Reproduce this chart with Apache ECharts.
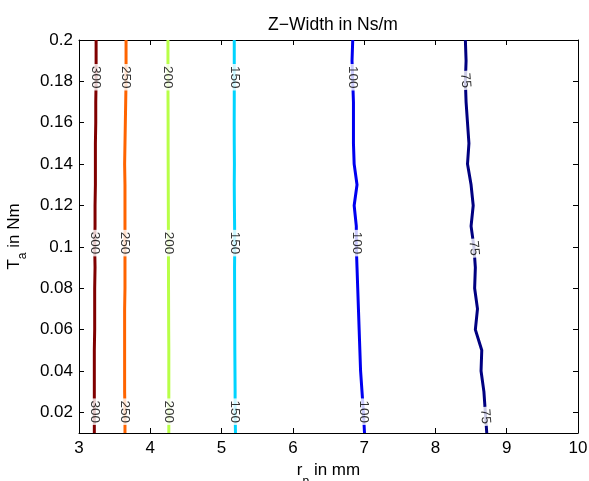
<!DOCTYPE html>
<html>
<head>
<meta charset="utf-8">
<script src="https://cdn.jsdelivr.net/npm/echarts@6/dist/echarts.min.js"></script>
<style>html,body{margin:0;padding:0;background:#fff}#c{width:589px;height:481px}</style>
</head>
<body>
<div id="c"></div>
<script>
// sampled torque values (y) for each contour line, bottom to top
const ySamples = [0.01,0.02,0.03,0.04,0.05,0.06,0.07,0.08,0.09,0.10,0.11,0.12,0.13,0.14,0.15,0.16,0.17,0.18,0.19,0.20];
const levels = [300, 250, 200, 150, 100, 75];
const x300 = [3.215,3.215,3.215,3.215,3.215,3.22,3.22,3.22,3.225,3.22,3.225,3.225,3.23,3.23,3.23,3.235,3.235,3.24,3.24,3.24];
const x250 = [3.645,3.645,3.64,3.64,3.64,3.64,3.64,3.645,3.645,3.645,3.645,3.645,3.645,3.64,3.645,3.65,3.655,3.66,3.66,3.66];
const x200 = [4.26,4.26,4.26,4.26,4.26,4.258,4.257,4.256,4.255,4.255,4.254,4.253,4.252,4.251,4.25,4.25,4.249,4.248,4.248,4.248];
const x150 = [5.195,5.19,5.19,5.188,5.186,5.185,5.184,5.183,5.182,5.185,5.183,5.18,5.178,5.18,5.178,5.177,5.178,5.178,5.178,5.178];
const x100 = [7.005,6.99,6.97,6.95,6.94,6.93,6.92,6.91,6.90,6.89,6.89,6.86,6.90,6.86,6.85,6.85,6.85,6.84,6.83,6.84];
const x75  = [8.72,8.70,8.68,8.64,8.65,8.56,8.59,8.55,8.56,8.54,8.50,8.53,8.50,8.45,8.47,8.45,8.43,8.42,8.43,8.42];
const colors = ['#800000','#FF6400','#B8FF47','#00D4FF','#0000F0','#000080'];
// contour label positions
const labelY = [[0.0203,0.1018,0.182],[0.0203,0.1018,0.182],[0.0203,0.1018,0.182],[0.0203,0.1018,0.182],[0.0203,0.1018,0.182],[0.018,0.0994,0.1805]];
const labelX = [[3.215,3.222,3.24],[3.645,3.645,3.66],[4.26,4.255,4.248],[5.19,5.184,5.178],[6.99,6.89,6.84],[8.70,8.54,8.42]];
const labelRot = [-90,-90,-90,-90,-90,-85];
const yTicks = [0.02,0.04,0.06,0.08,0.1,0.12,0.14,0.16,0.18,0.2];
const xMin = 3, xMax = 10, xStep = 1;
const yMin = 0.01, yMax = 0.2;

const xs = [x300, x250, x200, x150, x100, x75];
const FF = 'Liberation Sans, Arial, sans-serif';
const series = [];
levels.forEach((lv, i) => {
  series.push({
    type: 'line', name: String(lv), showSymbol: false, silent: true,
    data: ySamples.map((y, k) => [xs[i][k], y]),
    lineStyle: { color: colors[i], width: 3, join: 'round' },
    itemStyle: { color: colors[i] },
    z: 2
  });
  series.push({
    type: 'scatter', symbolSize: 0, silent: true, z: 5,
    data: labelY[i].map((y, k) => ({ value: [labelX[i][k], y], name: String(lv) })),
    label: {
      show: true, position: 'inside', formatter: '{b}', rotate: labelRot[i],
      fontSize: 13.5, color: '#000', fontFamily: FF,
      backgroundColor: '#fff', padding: [0, 2, 0, 2]
    }
  });
});

const fmtY = v => String(Number(v.toFixed(2)));
const axisFont = { fontSize: 17, color: '#000', fontFamily: FF };
const lineCol = '#000';

const chart = echarts.init(document.getElementById('c'), null, { renderer: 'canvas' });
chart.setOption({
  animation: false,
  backgroundColor: '#fff',
  title: {
    text: 'Z\u2212Width in Ns/m', left: 328, top: 11, textAlign: 'center',
    textStyle: { fontSize: 17.5, fontWeight: 'normal', color: '#000', fontFamily: FF }
  },
  grid: { left: 79, right: 11, top: 40, bottom: 48, containLabel: false, outerBoundsMode: 'none' },
  xAxis: [{
    type: 'value', min: xMin, max: xMax, interval: xStep, position: 'bottom',
    axisLine: { show: true, lineStyle: { color: lineCol, width: 1 } },
    axisTick: { show: true, inside: true, length: 5, lineStyle: { color: lineCol } },
    axisLabel: Object.assign({ margin: 7 }, axisFont),
    splitLine: { show: false },
    name: '{m|r}{s|p}{m| in mm}', nameLocation: 'middle', nameGap: 15,
    nameTextStyle: {
      rich: {
        m: { fontSize: 17, color: '#000', lineHeight: 35, fontFamily: FF },
        s: { fontSize: 12, color: '#000', lineHeight: 35, verticalAlign: 'bottom', fontFamily: FF }
      }
    }
  }, {
    type: 'value', min: xMin, max: xMax, interval: xStep, position: 'top',
    axisLine: { show: true, lineStyle: { color: lineCol, width: 1 } },
    axisTick: { show: true, inside: true, length: 5, lineStyle: { color: lineCol } },
    axisLabel: { show: false }, splitLine: { show: false }
  }],
  yAxis: [{
    type: 'value', min: yMin, max: yMax, position: 'left',
    axisLine: { show: true, lineStyle: { color: lineCol, width: 1 } },
    axisTick: { show: true, inside: true, length: 5, customValues: yTicks, lineStyle: { color: lineCol } },
    axisLabel: Object.assign({ margin: 6, customValues: yTicks, formatter: fmtY }, axisFont),
    splitLine: { show: false },
    name: '{m|T}{s|a}{m| in Nm}', nameLocation: 'middle', nameGap: 43,
    nameTextStyle: {
      rich: {
        m: { fontSize: 17, color: '#000', lineHeight: 30, fontFamily: FF },
        s: { fontSize: 12, color: '#000', lineHeight: 30, verticalAlign: 'bottom', fontFamily: FF }
      }
    }
  }, {
    type: 'value', min: yMin, max: yMax, position: 'right',
    axisLine: { show: true, lineStyle: { color: lineCol, width: 1 } },
    axisTick: { show: true, inside: true, length: 5, customValues: yTicks, lineStyle: { color: lineCol } },
    axisLabel: { show: false }, splitLine: { show: false }
  }],
  series: series
});
</script>
</body>
</html>
